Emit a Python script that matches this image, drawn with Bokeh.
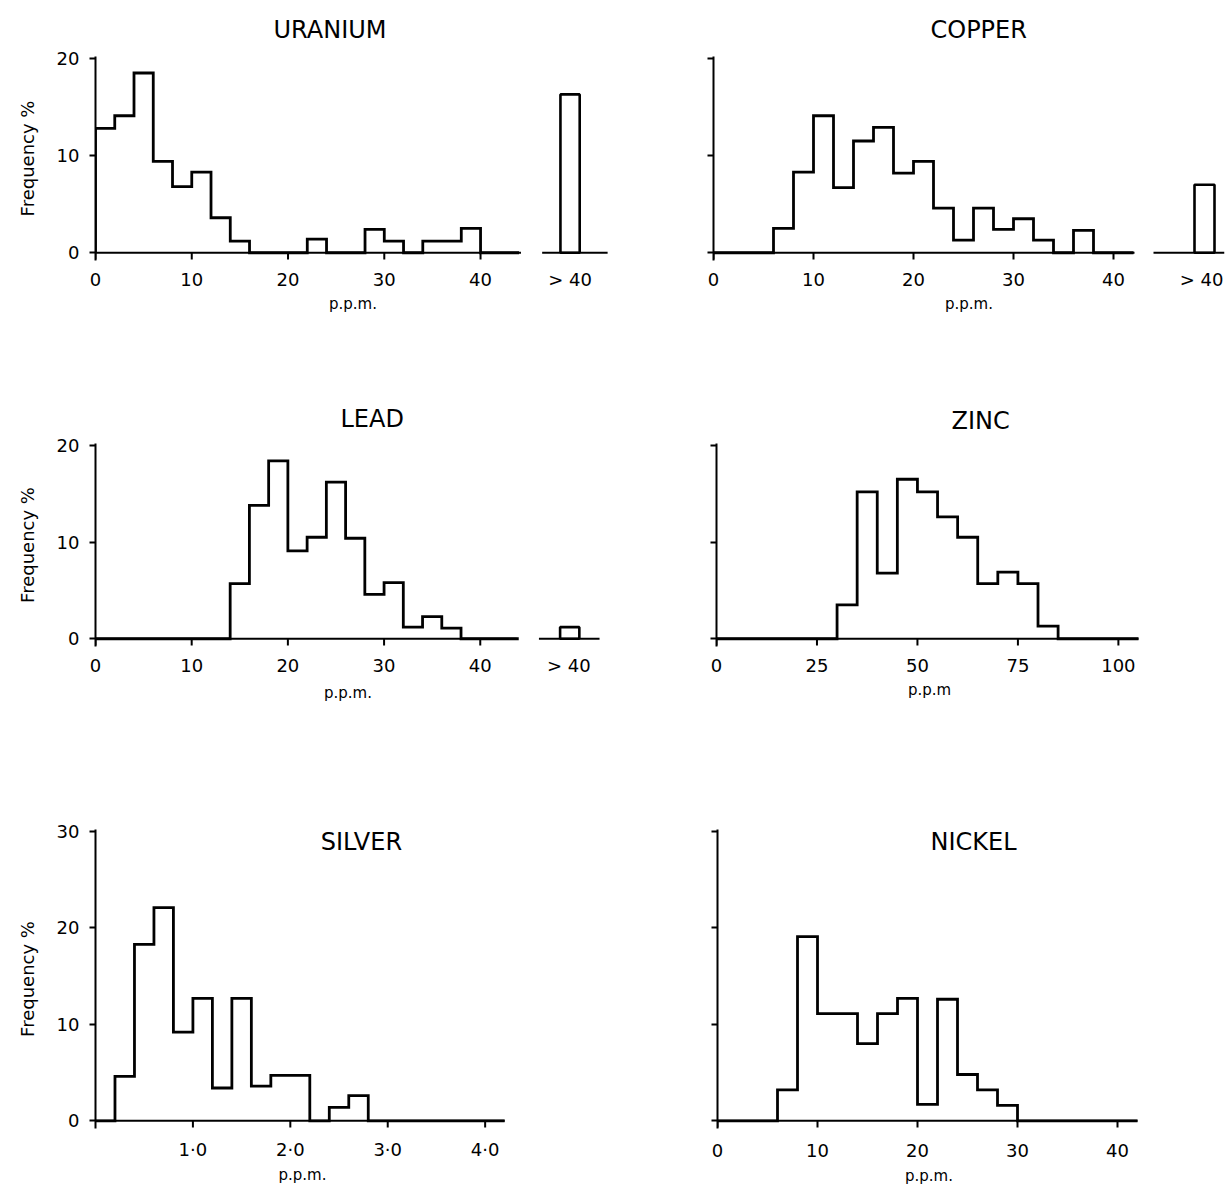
from bokeh.plotting import figure
from bokeh.models import Range1d, FixedTicker, Label, Title
from bokeh.layouts import column, row
from bokeh.embed import file_html
from bokeh.resources import INLINE

FONT = "DejaVu Sans"

# ---------------- data (frequency %) ----------------
uranium_bin_start = 0
uranium_bin_width = 2
uranium_freq = [12.8, 14.1, 18.5, 9.4, 6.8, 8.3, 3.6, 1.2, 0, 0, 0, 1.4,
                0, 0, 2.4, 1.2, 0, 1.2, 1.2, 2.5, 0, 0]
uranium_over40 = 16.3

copper_bin_start = 0
copper_bin_width = 2
copper_freq = [0, 0, 0, 2.5, 8.3, 14.1, 6.7, 11.5, 12.9, 8.2, 9.4, 4.6,
               1.3, 4.6, 2.4, 3.5, 1.3, 0, 2.3, 0, 0]
copper_over40 = 7.0

lead_bin_start = 0
lead_bin_width = 2
lead_freq = [0, 0, 0, 0, 0, 0, 0, 5.7, 13.8, 18.4, 9.1, 10.5, 16.2, 10.4,
             4.6, 5.8, 1.2, 2.3, 1.1, 0, 0, 0]
lead_over40 = 1.2

zinc_bin_start = 0
zinc_bin_width = 5
zinc_freq = [0, 0, 0, 0, 0, 0, 3.5, 15.2, 6.8, 16.5, 15.2, 12.6, 10.5,
             5.7, 6.9, 5.7, 1.3, 0, 0, 0, 0]

silver_bin_start = 0
silver_bin_width = 0.2
silver_freq = [0, 4.6, 18.3, 22.1, 9.2, 12.7, 3.4, 12.7, 3.6, 4.7, 4.7, 0,
               1.4, 2.6, 0, 0, 0, 0, 0, 0, 0]

nickel_bin_start = 0
nickel_bin_width = 2
nickel_freq = [0, 0, 0, 3.2, 19.1, 11.1, 11.1, 8.0, 11.1, 12.7, 1.7, 12.6,
               4.8, 3.2, 1.6, 0, 0, 0, 0, 0, 0]

ppm_ticks_40 = [0, 10, 20, 30, 40]
zinc_ticks = [0, 25, 50, 75, 100]
silver_ticks = [1, 2, 3, 4]
silver_tick_labels = ["1·0", "2·0", "3·0", "4·0"]
over40_label = "> 40"
y_ticks_20 = [0, 10, 20]
y_ticks_30 = [0, 10, 20, 30]


def outline(start, width, vals):
    xs = [start]
    ys = [0.0]
    for i, v in enumerate(vals):
        x0 = start + i * width
        xs += [x0, x0 + width]
        ys += [v, v]
    xs.append(start + len(vals) * width)
    ys.append(0.0)
    return xs, ys


def panel(cfg):
    p = figure(width=cfg["w"], height=cfg["h"], output_backend="svg",
               toolbar_location=None,
               x_range=Range1d(0, cfg["x_end"]),
               y_range=Range1d(-0.8, cfg["y_top"] + 0.2),
               min_border_left=cfg["mbl"], min_border_right=cfg["mbr"],
               min_border_top=cfg["mbt"], min_border_bottom=cfg["mbb"])
    p.outline_line_color = None
    p.grid.visible = False
    p.background_fill_color = "white"
    p.border_fill_color = "white"

    xs, ys = outline(cfg["start"], cfg["bw"], cfg["vals"])
    p.line(xs, ys, line_color="black", line_width=2.8, line_join="miter")

    for (a, b) in cfg["baselines"]:
        p.segment(x0=[a], y0=[0], x1=[b], y1=[0], line_color="black", line_width=2)

    marks = cfg["tick_marks"]
    p.segment(x0=marks, y0=[0] * len(marks), x1=marks, y1=[-0.7] * len(marks),
              line_color="black", line_width=2)

    xticks = list(cfg["xticks"])
    overrides = dict(cfg.get("overrides", {}))
    if cfg.get("over") is not None:
        left = cfg["over_left"]
        p.quad(left=[left], right=[left + cfg["bw"]], bottom=[0], top=[cfg["over"]],
               fill_color=None, line_color="black", line_width=2.6)
        xticks.append(cfg["over_tick"])
        overrides[cfg["over_tick"]] = over40_label

    # x axis
    xa = p.xaxis[0]
    xa.ticker = FixedTicker(ticks=xticks)
    xa.major_label_overrides = overrides
    xa.axis_line_color = None
    xa.major_tick_line_color = None
    xa.minor_tick_line_color = None
    xa.major_label_standoff = cfg["xtick_standoff"]
    xa.major_label_text_font = FONT
    xa.major_label_text_font_size = "18px"
    xa.major_label_text_color = "black"
    xa.axis_label = cfg["xlabel"]
    xa.axis_label_text_font = FONT
    xa.axis_label_text_font_size = "15px"
    xa.axis_label_text_font_style = "normal"
    xa.axis_label_text_color = "black"
    xa.axis_label_standoff = cfg["xlab_standoff"]

    # y axis
    ya = p.yaxis[0]
    ya.ticker = FixedTicker(ticks=cfg["yticks"])
    ya.axis_line_width = 2
    ya.axis_line_color = "black"
    ya.major_tick_line_width = 2
    ya.major_tick_line_color = "black"
    ya.major_tick_out = 6
    ya.major_tick_in = 0
    ya.minor_tick_line_color = None
    ya.major_label_standoff = 10
    ya.major_label_text_font = FONT
    ya.major_label_text_color = "black"
    ya.major_label_text_font_size = "18px"
    if cfg["ylabels"]:
        ya.axis_label = "Frequency %"
        ya.axis_label_text_font = FONT
        ya.axis_label_text_font_size = "18px"
        ya.axis_label_text_font_style = "normal"
        ya.axis_label_text_color = "black"
        ya.axis_label_standoff = 16
    else:
        ya.major_label_overrides = {t: "" for t in cfg["yticks"]}

    if cfg["title_inside"]:
        p.add_layout(Label(x=cfg["title_x"], y=cfg["title_y"], text=cfg["title"],
                           text_align="center", text_baseline="middle",
                           text_font=FONT, text_font_size="24px",
                           text_color="black"))
    else:
        p.title = Title(text=cfg["title"], align="left", offset=cfg["title_offset"],
                        standoff=cfg["title_standoff"], text_font=FONT,
                        text_font_size="24px", text_font_style="normal",
                        text_color="black")
    return p


cfgs = [
    dict(title="URANIUM", title_inside=False, title_offset=178, title_standoff=26,
         start=uranium_bin_start, bw=uranium_bin_width, vals=uranium_freq,
         over=uranium_over40, over_left=48.3, over_tick=49.3, x_end=53.5, y_top=20,
         xticks=ppm_ticks_40, tick_marks=ppm_ticks_40, yticks=y_ticks_20,
         baselines=[(0, 44.2), (46.4, 53.2)], ylabels=True, xlabel="p.p.m.",
         xtick_standoff=2, xlab_standoff=2,
         w=616, h=391, mbl=95, mbr=6, mbt=56, mbb=131),
    dict(title="COPPER", title_inside=False, title_offset=217, title_standoff=26,
         start=copper_bin_start, bw=copper_bin_width, vals=copper_freq,
         over=copper_over40, over_left=48.1, over_tick=48.8, x_end=51.1, y_top=20,
         xticks=ppm_ticks_40, tick_marks=ppm_ticks_40, yticks=y_ticks_20,
         baselines=[(0, 42.1), (44.0, 51.1)], ylabels=False, xlabel="p.p.m.",
         xtick_standoff=2, xlab_standoff=2,
         w=616, h=391, mbl=97, mbr=8, mbt=56, mbb=131),
    dict(title="LEAD", title_inside=False, title_offset=245, title_standoff=22,
         start=lead_bin_start, bw=lead_bin_width, vals=lead_freq,
         over=lead_over40, over_left=48.3, over_tick=49.2, x_end=52.5, y_top=20,
         xticks=ppm_ticks_40, tick_marks=ppm_ticks_40, yticks=y_ticks_20,
         baselines=[(0, 43.8), (46.1, 52.4)], ylabels=True, xlabel="p.p.m.",
         xtick_standoff=2, xlab_standoff=5,
         w=616, h=409, mbl=95, mbr=16, mbt=52, mbb=154),
    dict(title="ZINC", title_inside=False, title_offset=235, title_standoff=18,
         start=zinc_bin_start, bw=zinc_bin_width, vals=zinc_freq, over=None,
         x_end=106, y_top=20,
         xticks=zinc_ticks, tick_marks=zinc_ticks, yticks=y_ticks_20,
         baselines=[(0, 105)], ylabels=False, xlabel="p.p.m",
         xtick_standoff=6, xlab_standoff=6,
         w=616, h=409, mbl=100, mbr=90, mbt=52, mbb=154),
    dict(title="SILVER", title_inside=True, title_x=2.73, title_y=28.9,
         start=silver_bin_start, bw=silver_bin_width, vals=silver_freq, over=None,
         x_end=4.25, y_top=30,
         xticks=silver_ticks, tick_marks=silver_ticks, yticks=y_ticks_30,
         overrides={t: s for t, s in zip(silver_ticks, silver_tick_labels)},
         baselines=[(0, 4.2)], ylabels=True, xlabel="p.p.m.",
         xtick_standoff=4, xlab_standoff=3,
         w=616, h=388, mbl=95, mbr=107, mbt=29, mbb=60),
    dict(title="NICKEL", title_inside=True, title_x=25.6, title_y=28.9,
         start=nickel_bin_start, bw=nickel_bin_width, vals=nickel_freq, over=None,
         x_end=42.3, y_top=30,
         xticks=ppm_ticks_40, tick_marks=ppm_ticks_40, yticks=y_ticks_30,
         baselines=[(0, 42)], ylabels=False, xlabel="p.p.m.",
         xtick_standoff=9, xlab_standoff=7,
         w=616, h=388, mbl=101, mbr=92, mbt=29, mbb=60),
]

figs = [panel(c) for c in cfgs]
layout = column(row(figs[0], figs[1]), row(figs[2], figs[3]), row(figs[4], figs[5]))

open("out.html", "w").write(file_html(layout, INLINE))
